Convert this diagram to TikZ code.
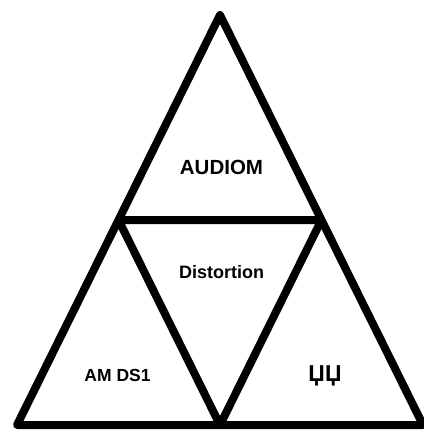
\documentclass[tikz,border=0pt]{standalone}
\usepackage{fontspec}
\setmainfont{Liberation Sans}

\tikzset{every picture/.style={line width=8pt}}
\tikzset{
	label big/.style={font=\bfseries\fontsize{20.5}{22}\selectfont, anchor=base},
	label small/.style={font=\bfseries\fontsize{18}{20}\selectfont, anchor=base},
	label corner/.style={font=\bfseries\fontsize{17.5}{19}\selectfont, anchor=base},
	label glyph/.style={font=\bfseries\fontsize{23}{25}\selectfont, anchor=base}}

\begin{document}
\begin{tikzpicture}[x=1pt,y=1pt,yscale=-1,xscale=1]
	\useasboundingbox (0,0) rectangle (423,430); %set diagram size to 423 x 430

	% Corners
	\coordinate (top) at (220,15);
	\coordinate (botleft) at (17,425);
	\coordinate (botright) at (423,425);
	\coordinate (midleft) at (118.5,220);
	\coordinate (midright) at (321.5,220);
	\coordinate (botmid) at (220,425);

	%Shape: Triangle [id:outer]
	\draw [line join=round] (top) -- (botleft) -- (botright) -- cycle ;
	%Shape: Triangle [id:inner]
	\draw [line join=round] (midleft) -- (midright) -- (botmid) -- cycle ;

	% Text Node
	\node [label big] (audiom) at (221.5,175) {AUDIOM};
	% Text Node
	\node [label small] (distortion) at (221.5,278) {Distortion};
	% Text Node
	\node [label corner] (amds) at (117.5,381) {AM DS1};
	% Text Node
	\node [label glyph] (dzhe) at (325,381) {ЏЏ};

\end{tikzpicture}
\end{document}
